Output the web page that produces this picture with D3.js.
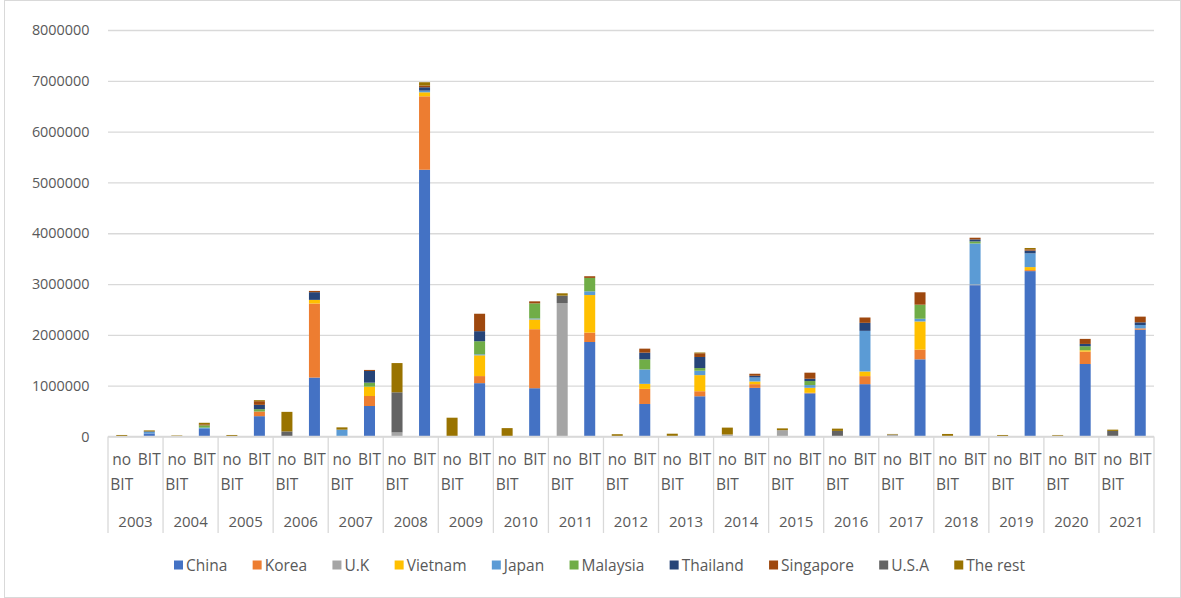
<!DOCTYPE html>
<html>
<head>
<meta charset="utf-8">
<script src="https://cdn.jsdelivr.net/npm/d3@7"></script>
<style>
  html, body { margin: 0; padding: 0; background: #fff; }
  svg { display: block; font-family: "Open Sans", "Noto Sans", sans-serif; }
</style>
</head>
<body>
<svg id="chart" width="1181" height="598"></svg>
<script>
// Categories: each year is split into a "no BIT" and a "BIT" bar
const years = ["2003","2004","2005","2006","2007","2008","2009","2010","2011","2012",
               "2013","2014","2015","2016","2017","2018","2019","2020","2021"];
const bitTypes = ["no BIT", "BIT"];
const seriesNames = ["China","Korea","U.K","Vietnam","Japan","Malaysia","Thailand","Singapore","U.S.A","The rest"];
const seriesColors = ["#4472C4","#ED7D31","#A5A5A5","#FFC000","#5B9BD5","#70AD47","#264478","#9E480E","#636363","#997300"];
const yTicks = [0,1000000,2000000,3000000,4000000,5000000,6000000,7000000,8000000];

// Values per series, ordered [2003 no BIT, 2003 BIT, 2004 no BIT, 2004 BIT, ...]
const china     = [0,60000, 0,150000, 0,400000, 0,1160000, 0,600000, 0,5250000, 0,1050000, 0,950000, 0,1860000, 0,640000,
                   0,792000, 0,957000, 0,850000, 0,1030000, 0,1519000, 0,2978000, 0,3255000, 0,1427000, 0,2102000];
const korea     = [0,0, 0,0, 0,92000, 0,1457000, 0,197000, 0,1445000, 0,139000, 0,1162000, 0,185000, 0,297000,
                   0,99000, 0,73000, 0,10000, 0,158000, 0,191000, 0,0, 0,20000, 0,244000, 0,26000];
const uk        = [0,0, 10000,0, 10000,0, 0,0, 0,0, 80000,0, 0,0, 0,0, 2627000,0, 0,0,
                   0,0, 40000,0, 125000,0, 0,0, 40000,0, 0,15000, 0,0, 15000,0, 0,0];
const vietnam   = [0,0, 0,0, 0,0, 0,72000, 0,184000, 0,79000, 0,409000, 0,191000, 0,739000, 0,99000,
                   0,317000, 0,53000, 0,99000, 0,92000, 0,554000, 0,0, 0,59000, 0,26000, 0,0];
const japan     = [0,30000, 0,25000, 0,0, 0,0, 135000,0, 0,33000, 0,20000, 0,20000, 0,73000, 0,284000,
                   0,86000, 0,79000, 0,53000, 0,799000, 0,53000, 0,806000, 0,271000, 0,0, 0,66000];
const malaysia  = [0,0, 0,45000, 0,46000, 0,0, 0,79000, 0,0, 0,257000, 0,297000, 0,264000, 0,198000,
                   0,53000, 0,0, 0,79000, 0,0, 0,277000, 0,40000, 0,0, 0,79000, 0,0];
const thailand  = [0,10000, 0,0, 0,85000, 0,151000, 0,230000, 0,66000, 0,198000, 0,0, 0,0, 0,132000,
                   0,218000, 0,33000, 0,46000, 0,158000, 0,0, 0,40000, 0,53000, 0,46000, 0,53000];
const singapore = [0,0, 0,20000, 0,72000, 0,25000, 0,20000, 0,33000, 0,343000, 0,40000, 0,33000, 0,79000,
                   0,73000, 0,40000, 0,119000, 0,105000, 0,244000, 0,33000, 0,26000, 0,99000, 0,112000];
const usa       = [0,0, 0,0, 0,0, 100000,0, 0,0, 790000,0, 0,0, 0,0, 145000,0, 0,0,
                   0,0, 0,0, 0,0, 110000,0, 0,0, 0,0, 0,0, 0,0, 110000,0];
const theRest   = [30000,20000, 10000,30000, 20000,20000, 385000,0, 45000,0, 575000,66000, 370000,0, 165000,0, 46000,0, 45000,0,
                   55000,15000, 135000,0, 35000,0, 45000,0, 10000,0, 50000,0, 30000,26000, 15000,0, 25000,0];
const seriesValues = [china, korea, uk, vietnam, japan, malaysia, thailand, singapore, usa, theRest];

// Build one row per bar for d3.stack
const keys = [];
years.forEach(yr => bitTypes.forEach(b => keys.push(yr + "|" + b)));
const rows = keys.map((k, i) => {
  const r = { key: k };
  seriesNames.forEach((s, j) => { r[s] = seriesValues[j][i]; });
  return r;
});

const svg = d3.select("#chart");
const W = 1181, H = 598;
const plotLeft = 108, plotRight = 1154, plotTop = 30, plotBottom = 436.5;
const textColor = "#595959", gridColor = "#D9D9D9";
const digitSize = 14.4, labelSize = 15.5, yearSize = 15;

svg.append("rect").attr("x", 0).attr("y", 0).attr("width", W).attr("height", H).attr("fill", "#fff");
svg.append("rect").attr("x", 4.5).attr("y", 0.5).attr("width", W - 5).attr("height", H - 1)
  .attr("fill", "none").attr("stroke", gridColor).attr("stroke-width", 1);

const x = d3.scaleBand().domain(keys).range([plotLeft, plotRight]).paddingInner(0.6).paddingOuter(0.3);
const xYear = d3.scaleBand().domain(years).range([plotLeft, plotRight]);
const y = d3.scaleLinear().domain([0, 8000000]).range([plotBottom, plotTop]);

// Gridlines and y-axis labels
const yAxis = d3.axisLeft(y).tickValues(yTicks).tickSize(-(plotRight - plotLeft)).tickFormat(d3.format("d"));
const gy = svg.append("g").attr("transform", `translate(${plotLeft},0)`).call(yAxis);
gy.select(".domain").remove();
gy.selectAll(".tick line").attr("stroke", gridColor).attr("stroke-width", 1.3);
gy.selectAll(".tick text").attr("x", -18.5).attr("fill", textColor).attr("font-size", digitSize)
  .attr("font-family", "'Open Sans', sans-serif");

// Stacked bars
const stack = d3.stack().keys(seriesNames);
const layers = stack(rows);
svg.append("g").selectAll("g").data(layers).join("g")
  .attr("fill", (d, i) => seriesColors[i])
  .selectAll("rect").data(d => d).join("rect")
  .attr("x", d => x(d.data.key))
  .attr("width", x.bandwidth())
  .attr("y", d => y(d[1]))
  .attr("height", d => Math.max(0, y(d[0]) - y(d[1])));

// Category axis: year separators, BIT labels, year labels
const gx = svg.append("g");
const sepBottom = 533;
years.concat(["end"]).forEach((yr, i) => {
  const xx = i < years.length ? xYear(yr) : plotRight;
  gx.append("line").attr("x1", xx).attr("x2", xx).attr("y1", plotBottom).attr("y2", sepBottom)
    .attr("stroke", gridColor).attr("stroke-width", 1.3);
});
gx.append("line").attr("x1", plotLeft).attr("x2", plotRight).attr("y1", plotBottom).attr("y2", plotBottom)
  .attr("stroke", gridColor).attr("stroke-width", 1.3);

keys.forEach(k => {
  const b = k.split("|")[1];
  const cx = x(k) + x.bandwidth() / 2;
  const lines = b === "no BIT" ? ["no", "BIT"] : ["BIT"];
  lines.forEach((t, li) => {
    gx.append("text").attr("x", cx).attr("y", 464.5 + li * 25).attr("text-anchor", "middle")
      .attr("fill", textColor).attr("font-size", labelSize).text(t);
  });
});
years.forEach(yr => {
  gx.append("text").attr("x", xYear(yr) + xYear.bandwidth() / 2).attr("y", 526.5)
    .attr("text-anchor", "middle").attr("fill", textColor).attr("font-size", yearSize).text(yr);
});

// Legend, spread across the span below the plot
const legend = svg.append("g");
const items = [];
seriesNames.forEach((s, i) => {
  const g = legend.append("g");
  g.append("rect").attr("x", 0).attr("y", -10).attr("width", 9).attr("height", 9).attr("fill", seriesColors[i]);
  const t = g.append("text").attr("x", 12).attr("y", 0).attr("fill", textColor).attr("font-size", labelSize).text(s);
  items.push({ g, w: 12 + t.node().getComputedTextLength() });
});
const legendStart = 174, legendEnd = 1025;
const gap = (legendEnd - legendStart - d3.sum(items, d => d.w)) / (items.length - 1);
let lx = legendStart;
items.forEach(it => { it.g.attr("transform", `translate(${lx},570.5)`); lx += it.w + gap; });
</script>
</body>
</html>
